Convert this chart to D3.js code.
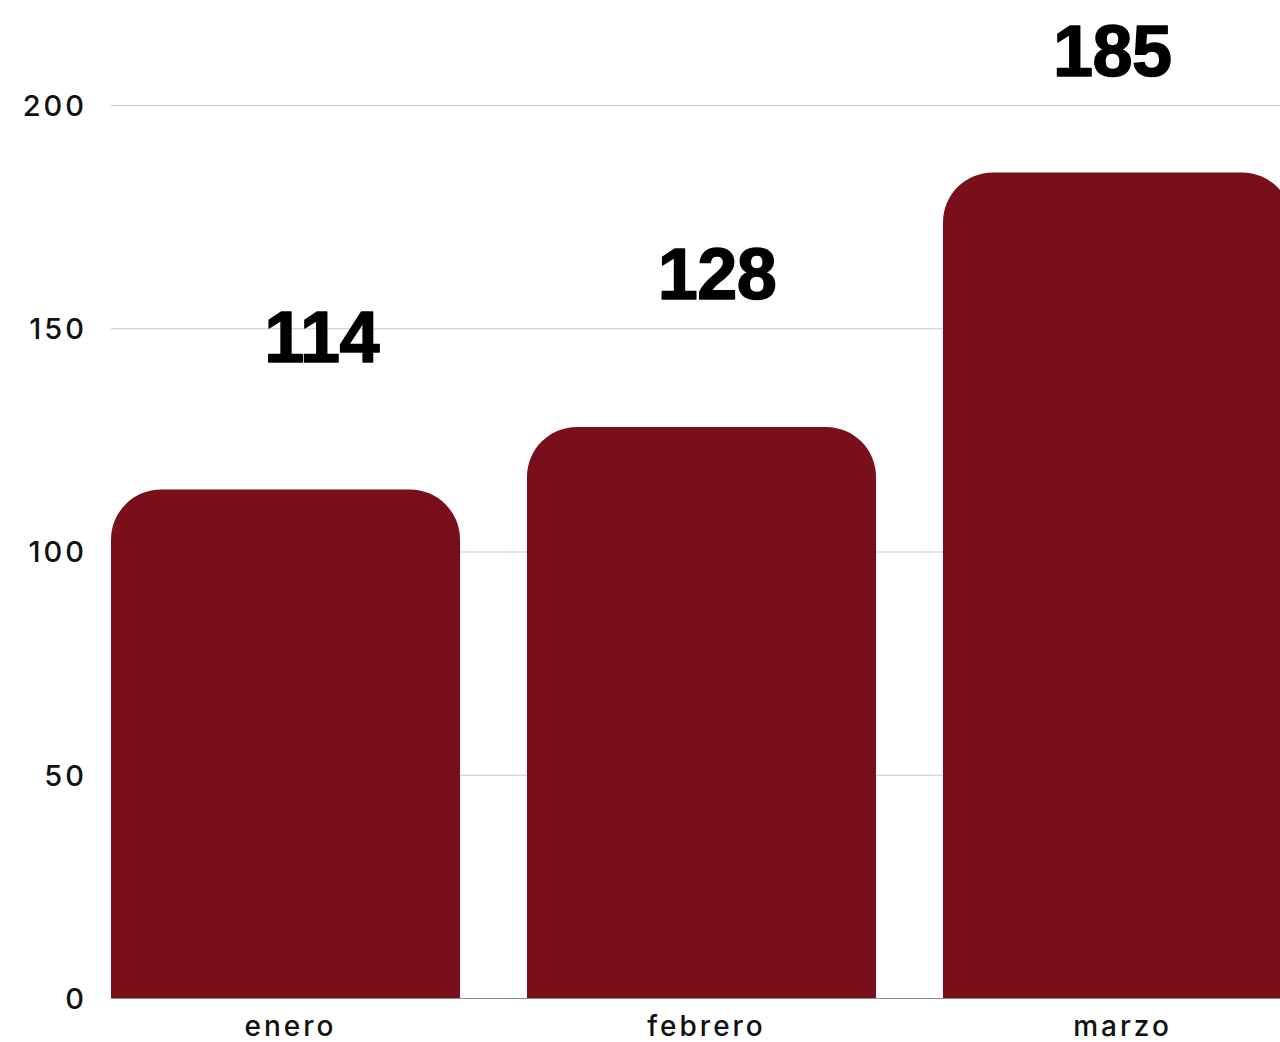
<!DOCTYPE html>
<html>
<head>
<meta charset="utf-8">
<script src="https://cdn.jsdelivr.net/npm/d3@7"></script>
<style>
  html, body { margin: 0; padding: 0; background: #fff; overflow: hidden; }
  svg { display: block; }
</style>
</head>
<body>
<svg id="chart" width="1280" height="1042"></svg>
<script>
// Monthly totals
const months = ["enero", "febrero", "marzo"];
const totals = [114, 128, 185];
const yTicks = [0, 50, 100, 150, 200];

const svg = d3.select("#chart");
const W = 1280;
const barColor = "#7a0f1c";
const axisFont = "Inter, 'DejaVu Sans', sans-serif";

const x = d3.scaleBand()
  .domain(months)
  .range([111, 1292])
  .paddingInner(0.161)
  .paddingOuter(0);

// value labels sit on a slightly wider band layout
const xLabel = d3.scaleBand()
  .domain(months)
  .range([124, 1310]);

const y = d3.scaleLinear()
  .domain([0, 200])
  .range([998.5, 105.5]);

// gridlines
svg.append("g")
  .selectAll("line")
  .data(yTicks.filter(t => t > 0))
  .join("line")
  .attr("x1", 111)
  .attr("x2", W)
  .attr("y1", d => y(d))
  .attr("y2", d => y(d))
  .attr("stroke", "#c8c8c8")
  .attr("stroke-width", 1.2);

// y tick labels
svg.append("g")
  .selectAll("text")
  .data(yTicks)
  .join("text")
  .attr("x", 87)
  .attr("y", d => y(d))
  .attr("dy", "0.36em")
  .attr("text-anchor", "end")
  .attr("font-family", axisFont)
  .attr("font-weight", 500)
  .attr("font-size", 29)
  .attr("letter-spacing", 3)
  .attr("fill", "#111")
  .text(d => d);

// rounded-top bars
const r = 50;
function barPath(d, i) {
  const x0 = x(months[i]);
  const w = x.bandwidth();
  const yt = y(d);
  const yb = y(0);
  const rr = Math.min(r, (yb - yt), w / 2);
  return `M${x0},${yb}V${yt + rr}A${rr},${rr} 0 0 1 ${x0 + rr},${yt}` +
         `H${x0 + w - rr}A${rr},${rr} 0 0 1 ${x0 + w},${yt + rr}V${yb}Z`;
}

svg.append("g")
  .selectAll("path")
  .data(totals)
  .join("path")
  .attr("d", barPath)
  .attr("fill", barColor);

// baseline
svg.append("line")
  .attr("x1", 111)
  .attr("x2", W)
  .attr("y1", y(0))
  .attr("y2", y(0))
  .attr("stroke", "#8a8a8a")
  .attr("stroke-width", 1.2);

// x category labels
svg.append("g")
  .selectAll("text")
  .data(months)
  .join("text")
  .attr("x", d => x(d) + x.bandwidth() / 2 + 5)
  .attr("y", 1036)
  .attr("text-anchor", "middle")
  .attr("font-family", axisFont)
  .attr("font-weight", 500)
  .attr("font-size", 28)
  .attr("letter-spacing", 3)
  .attr("fill", "#111")
  .text(d => d);

// value labels, kept inside the top of the view
const labelTopLimit = 76;
svg.append("g")
  .selectAll("text")
  .data(totals)
  .join("text")
  .attr("x", (d, i) => xLabel(months[i]) + xLabel.bandwidth() / 2)
  .attr("y", d => Math.max(y(d + 28.6), labelTopLimit))
  .attr("text-anchor", "middle")
  .attr("font-family", "Liberation Sans, Arial, sans-serif")
  .attr("font-weight", "bold")
  .attr("font-size", 72)
  .attr("letter-spacing", -0.5)
  .attr("stroke", "#000")
  .attr("stroke-width", 1.5)
  .attr("stroke-linejoin", "round")
  .attr("fill", "#000")
  .text(d => d);
</script>
</body>
</html>
